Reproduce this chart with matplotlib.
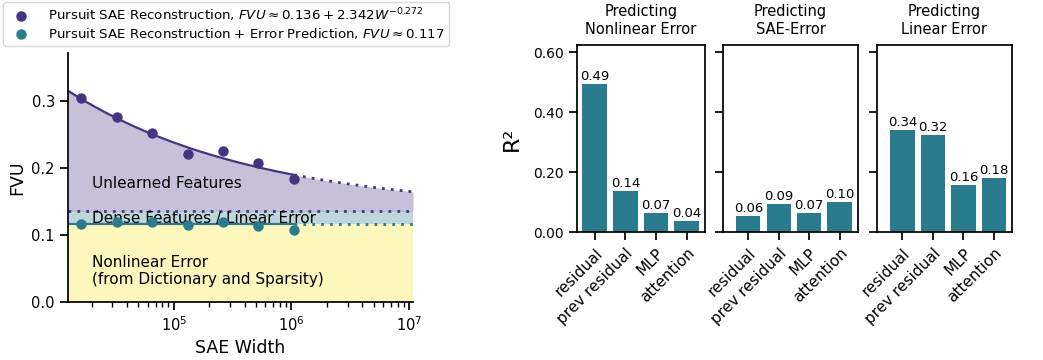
import numpy as np
import matplotlib
matplotlib.use("Agg")
import matplotlib.pyplot as plt
from matplotlib.lines import Line2D

# SAE widths and FVU for the pursuit SAE, with and without error prediction
sae_widths = [16384, 32768, 65536, 131072, 262144, 524288, 1048576]
fvu_recon = [0.305, 0.277, 0.252, 0.221, 0.225, 0.208, 0.184]
fvu_recon_pred = [0.117, 0.119, 0.119, 0.115, 0.120, 0.114, 0.108]

# power-law fit: FVU = c + a * W^b
fit_c, fit_a, fit_b = 0.136, 2.342, -0.272
pred_level = 0.117

# R^2 of predicting each error type from each component
components = ["residual", "prev residual", "MLP", "attention"]
panel_titles = ["Predicting\nNonlinear Error", "Predicting\nSAE-Error", "Predicting\nLinear Error"]
r2_nonlinear = [0.494, 0.138, 0.066, 0.039]
r2_sae = [0.056, 0.094, 0.066, 0.101]
r2_linear = [0.341, 0.324, 0.159, 0.182]

purple = "#45347f"
teal = "#2a7b8e"
yellow = "#fde725"

plt.rcParams["font.family"] = "DejaVu Sans"
plt.rcParams["axes.linewidth"] = 1.25
plt.rcParams["xtick.major.width"] = 1.25
plt.rcParams["ytick.major.width"] = 1.25
plt.rcParams["xtick.minor.width"] = 1.0
plt.rcParams["xtick.major.size"] = 6
plt.rcParams["ytick.major.size"] = 6
plt.rcParams["xtick.minor.size"] = 3.5

fig = plt.figure(figsize=(10.43, 3.6), dpi=100)

# ---- left: FVU vs SAE width ----
ax = fig.add_axes([0.0652, 0.1611, 0.3308, 0.6917])
xmin, xmax = 1.26e4, 1.08e7
w_all = np.logspace(np.log10(xmin), np.log10(xmax), 300)
fit_all = fit_c + fit_a * w_all ** fit_b
w_in = w_all[w_all <= sae_widths[-1]]
w_out = w_all[w_all >= sae_widths[-1]]

ax.fill_between(w_all, 0, pred_level, color=yellow, alpha=0.3, lw=0)
ax.fill_between(w_all, pred_level, fit_c, color=teal, alpha=0.3, lw=0)
ax.fill_between(w_all, fit_c, fit_all, color=purple, alpha=0.3, lw=0)

ax.plot(w_in, fit_c + fit_a * w_in ** fit_b, color=purple, lw=1.6)
ax.plot(w_out, fit_c + fit_a * w_out ** fit_b, color=purple, lw=2, ls=(0, (1, 2.2)))
ax.axhline(fit_c, color=purple, lw=2, ls=(0, (1, 2.2)))
ax.plot([xmin, sae_widths[-1]], [pred_level, pred_level], color=teal, lw=1.6)
ax.plot([sae_widths[-1], xmax], [pred_level, pred_level], color=teal, lw=2, ls=(0, (1, 2.2)))

ax.scatter(sae_widths, fvu_recon, color=purple, s=42, zorder=5)
ax.scatter(sae_widths, fvu_recon_pred, color=teal, s=42, zorder=5)

ax.text(2.03e4, 0.177, "Unlearned Features", fontsize=11, va="center")
ax.text(2.03e4, 0.1245, "Dense Features / Linear Error", fontsize=11, va="center")
ax.text(2.03e4, 0.046, "Nonlinear Error\n(from Dictionary and Sparsity)", fontsize=11, va="center")

ax.set_xscale("log")
ax.set_xlim(xmin, xmax)
ax.set_ylim(0, 0.372)
ax.set_yticks([0.0, 0.1, 0.2, 0.3])
ax.tick_params(labelsize=10.5)
ax.set_xlabel("SAE Width", fontsize=12.5)
ax.set_ylabel("FVU", fontsize=12.5)
ax.spines["top"].set_visible(False)
ax.spines["right"].set_visible(False)

handles = [
    Line2D([], [], ls="", marker="o", color=purple, markersize=6.5),
    Line2D([], [], ls="", marker="o", color=teal, markersize=6.5),
]
labels = [
    r"Pursuit SAE Reconstruction, $FVU \approx 0.136 + 2.342W^{-0.272}$",
    r"Pursuit SAE Reconstruction + Error Prediction, $FVU \approx 0.117$",
]
fig.legend(handles, labels, loc="upper left", bbox_to_anchor=(0.002, 0.998),
           borderaxespad=0.1, fontsize=9.6, frameon=True, edgecolor="#cccccc",
           handletextpad=1.0, borderpad=0.35, labelspacing=0.15)

# ---- right: R^2 bar panels ----
bar_axes_pos = [
    [0.5532, 0.3547, 0.1227, 0.5203],
    [0.6935, 0.3547, 0.1290, 0.5203],
    [0.8406, 0.3547, 0.1294, 0.5203],
]
xlims = [(-0.58, 3.6), (-0.82, 3.6), (-0.84, 3.58)]
for i, (pos, title, vals) in enumerate(zip(bar_axes_pos, panel_titles,
                                           [r2_nonlinear, r2_sae, r2_linear])):
    bx = fig.add_axes(pos)
    x = np.arange(len(components))
    bars = bx.bar(x, vals, width=0.8, color=teal)
    for b, v in zip(bars, vals):
        bx.text(b.get_x() + b.get_width() / 2, v + 0.003, f"{v:.2f}",
                ha="center", va="bottom", fontsize=9.5)
    bx.set_xlim(*xlims[i])
    bx.set_ylim(0, 0.625)
    bx.set_yticks([0.0, 0.2, 0.4, 0.6])
    bx.set_xticks(x)
    bx.set_xticklabels(components, rotation=45, ha="right",
                       rotation_mode="anchor", fontsize=11)
    bx.set_title(title, fontsize=10.5, pad=8)
    if i == 0:
        bx.set_yticklabels(["0.00", "0.20", "0.40", "0.60"], fontsize=10)
        bx.set_ylabel("R²", fontsize=16, labelpad=8)
    else:
        bx.set_yticklabels([])

fig.savefig("out.png", dpi=100)
